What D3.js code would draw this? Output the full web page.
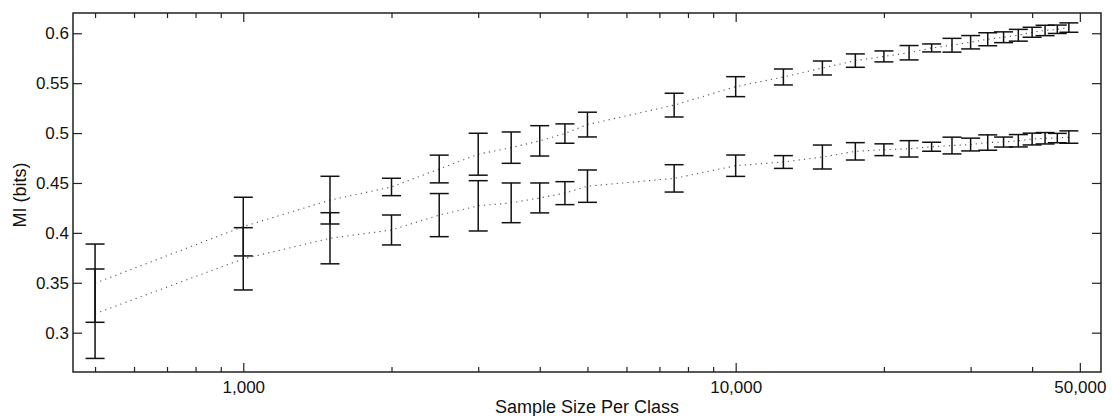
<!DOCTYPE html>
<html>
<head>
<meta charset="utf-8">
<script src="https://cdn.jsdelivr.net/npm/d3@7"></script>
<style>
  body { margin: 0; background: #fff; }
  text { font-family: "Liberation Sans", Arial, sans-serif; fill: #111; }
</style>
</head>
<body>
<div id="mi_chart"></div>
<script>
// sample sizes per class (x)
var sizes = [500, 1000, 1500, 2000, 2500, 3000, 3500, 4000, 4500, 5000, 7500,
  10000, 12500, 15000, 17500, 20000, 22500, 25000, 27500, 30000, 32500,
  35000, 37500, 40000, 42500, 45000, 47500];

// upper curve: mean MI and half error bar
var upperMean = [0.3496, 0.4063, 0.4328, 0.446, 0.464, 0.4788, 0.4854, 0.4922,
  0.4995, 0.5085, 0.528, 0.5465, 0.5562, 0.5652, 0.5726, 0.5768, 0.5805,
  0.5853, 0.588, 0.591, 0.594, 0.596, 0.598, 0.601, 0.6028, 0.604, 0.6057];
var upperErr = [0.0392, 0.0294, 0.0239, 0.0087, 0.0139, 0.021, 0.0157, 0.0152,
  0.0097, 0.0124, 0.0119, 0.01, 0.008, 0.007, 0.0067, 0.0055, 0.0072, 0.004,
  0.0069, 0.0067, 0.0065, 0.0054, 0.0059, 0.005, 0.0052, 0.0042, 0.0047];

// lower curve
var lowerMean = [0.319, 0.374, 0.3946, 0.4029, 0.4178, 0.4271, 0.4301, 0.435,
  0.4398, 0.4468, 0.4546, 0.4673, 0.471, 0.476, 0.4817, 0.4833, 0.4842,
  0.4863, 0.4875, 0.4885, 0.4905, 0.491, 0.4923, 0.494, 0.4948, 0.495, 0.496];
var lowerErr = [0.0448, 0.0312, 0.0256, 0.015, 0.0216, 0.0252, 0.0199, 0.015,
  0.0115, 0.0162, 0.0137, 0.0107, 0.0064, 0.012, 0.0087, 0.0059, 0.0082,
  0.0045, 0.0084, 0.0064, 0.0077, 0.005, 0.0062, 0.0059, 0.0057, 0.0047, 0.0062];

var yTicks = [0.3, 0.35, 0.4, 0.45, 0.5, 0.55, 0.6];
var xMajor = [1000, 10000, 50000];
var xMinor = [500, 600, 700, 800, 900, 2000, 3000, 4000, 5000, 6000, 7000,
  8000, 9000, 20000, 30000, 40000];

var margin = { top: 13, right: 11, bottom: 44, left: 73 };
var width = 1112 - margin.left - margin.right;
var height = 416 - margin.top - margin.bottom;

var svg = d3
  .select("#mi_chart")
  .append("svg")
  .attr("width", 1112)
  .attr("height", 416);

var chart = svg
  .append("g")
  .attr("transform", "translate(" + margin.left + "," + margin.top + ")");

var x = d3.scaleLog().domain([451, 55200]).range([0, width]);
var y = d3.scaleLinear().domain([0.2606, 0.6203]).range([height, 0]);

var fmtX = d3.format(",");
var fmtY = function(d) { return String(+d.toFixed(2)); };

// axes: ticks point inward, mirrored on top / right
function styleAxis(g) {
  g.select(".domain").remove();
  g.selectAll(".tick line").attr("stroke", "#222").attr("stroke-width", 1.2);
  g.selectAll(".tick text").style("font-size", "17px").attr("fill", "#111");
}

chart
  .append("g")
  .attr("transform", "translate(0," + height + ")")
  .call(d3.axisBottom(x).tickValues(xMajor).tickFormat(fmtX).tickSizeInner(-9).tickSizeOuter(0).tickPadding(9))
  .call(styleAxis);
chart
  .append("g")
  .attr("transform", "translate(0," + height + ")")
  .call(d3.axisBottom(x).tickValues(xMinor).tickFormat("").tickSizeInner(-5).tickSizeOuter(0))
  .call(styleAxis);
chart
  .append("g")
  .call(d3.axisTop(x).tickValues(xMajor).tickFormat("").tickSizeInner(-9).tickSizeOuter(0))
  .call(styleAxis);
chart
  .append("g")
  .call(d3.axisTop(x).tickValues(xMinor).tickFormat("").tickSizeInner(-5).tickSizeOuter(0))
  .call(styleAxis);
chart
  .append("g")
  .call(d3.axisLeft(y).tickValues(yTicks).tickFormat(fmtY).tickSizeInner(-9).tickSizeOuter(0).tickPadding(4))
  .call(styleAxis);
chart
  .append("g")
  .attr("transform", "translate(" + width + ",0)")
  .call(d3.axisRight(y).tickValues(yTicks).tickFormat("").tickSizeInner(-9).tickSizeOuter(0))
  .call(styleAxis);

// frame
chart
  .append("rect")
  .attr("width", width)
  .attr("height", height)
  .attr("fill", "none")
  .attr("stroke", "#222")
  .attr("stroke-width", 1.5);

function drawSeries(means, errs) {
  var pts = sizes.map(function(s, i) {
    return { size: s, mean: means[i], err: errs[i] };
  });

  chart
    .append("path")
    .datum(pts)
    .attr("fill", "none")
    .attr("stroke", "#555")
    .attr("stroke-width", 1.1)
    .attr("stroke-dasharray", "1.2,4.2")
    .attr(
      "d",
      d3.line()
        .x(d => x(d.size))
        .y(d => y(d.mean))
    );

  var bars = chart
    .append("g")
    .selectAll(".err")
    .data(pts)
    .enter()
    .append("g")
    .attr("class", "err")
    .attr("stroke", "#111")
    .attr("stroke-width", 1.5);

  bars
    .append("line")
    .attr("x1", d => x(d.size))
    .attr("x2", d => x(d.size))
    .attr("y1", d => y(d.mean + d.err))
    .attr("y2", d => y(d.mean - d.err));
  bars
    .append("line")
    .attr("x1", d => x(d.size) - 9.5)
    .attr("x2", d => x(d.size) + 9.5)
    .attr("y1", d => y(d.mean + d.err))
    .attr("y2", d => y(d.mean + d.err));
  bars
    .append("line")
    .attr("x1", d => x(d.size) - 9.5)
    .attr("x2", d => x(d.size) + 9.5)
    .attr("y1", d => y(d.mean - d.err))
    .attr("y2", d => y(d.mean - d.err));
}

drawSeries(upperMean, upperErr);
drawSeries(lowerMean, lowerErr);

// axis titles
svg
  .append("text")
  .attr("x", margin.left + width / 2)
  .attr("y", 413)
  .style("text-anchor", "middle")
  .style("font-size", "18px")
  .text("Sample Size Per Class");

svg
  .append("text")
  .attr("transform", "rotate(-90)")
  .attr("x", -195)
  .attr("y", 26)
  .style("text-anchor", "middle")
  .style("font-size", "18px")
  .text("MI (bits)");
</script>
</body>
</html>
